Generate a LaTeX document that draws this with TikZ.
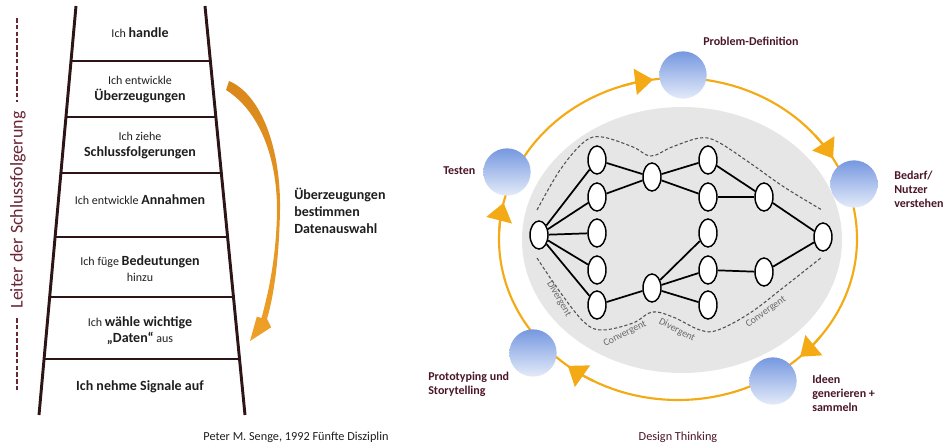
\documentclass[tikz,border=0pt]{standalone}
\usepackage{fontspec}
\setmainfont{Carlito}
\usetikzlibrary{calc,arrows.meta,shapes.geometric}

\definecolor{railc}{RGB}{45,20,22}
\definecolor{ink}{RGB}{30,30,30}
\definecolor{maroon}{RGB}{75,22,38}
\definecolor{leiterc}{RGB}{105,38,52}
\definecolor{loopc}{RGB}{243,170,20}
\definecolor{ringtop}{RGB}{118,152,224}
\definecolor{ringbot}{RGB}{228,235,249}
\definecolor{cloud}{RGB}{230,230,230}
\definecolor{dashc}{RGB}{80,80,80}
\definecolor{tagc}{RGB}{105,105,105}
\definecolor{amberdark}{RGB}{218,136,28}
\definecolor{amberlight}{RGB}{252,230,196}
\definecolor{ambermid}{RGB}{238,160,40}

\newcommand\Kw[1]{{\fontsize{10.5}{12}\selectfont\bfseries #1}}

\begin{document}
\begin{tikzpicture}[x=0.75pt, y=-0.75pt,
  rail/.style={draw=railc, line width=2.2pt},
  rung/.style={draw=railc, line width=1.8pt},
  ladtxt/.style={font=\fontsize{9}{12}\selectfont, text=ink, align=center, inner sep=0pt},
  dtlabel/.style={font=\fontsize{9}{10.5}\selectfont\bfseries, text=maroon, align=left, inner sep=0pt},
  ring/.style={circle, minimum size=35.5pt, inner sep=0pt, top color=ringtop, bottom color=ringbot, draw=none},
  loopline/.style={draw=loopc, line width=1.6pt},
  looptip/.style={loopline, -{Triangle[length=13.5pt, width=19.5pt]}},
  dnode/.style={ellipse, draw=black, line width=1.1pt, fill=white, minimum width=13.5pt, minimum height=21pt, inner sep=0pt},
  link/.style={draw=black, line width=1.3pt},
  phase/.style={draw=dashc, line width=0.8pt, dash pattern=on 2.4pt off 1.6pt},
  phasetag/.style={font=\fontsize{7.5}{9}\selectfont, text=tagc, inner sep=0pt},
  leader/.style={draw=leiterc, line width=1pt, dash pattern=on 3.4pt off 1.7pt}
]
\useasboundingbox (0,0) rectangle (945,446);

% ---------------- ladder of inference ----------------
\coordinate (lt) at (76,6);
\coordinate (lb) at (39,415);
\coordinate (rt) at (205,6);
\coordinate (rb) at (245,415);
\draw[rail] (lt) -- (lb);
\draw[rail] (rt) -- (rb);
\foreach \yy in {61,117,173,237,297,359}
  \draw[rung] ($(lt)!{(\yy-6)/409}!(lb)$) -- ($(rt)!{(\yy-6)/409}!(rb)$);

\node[ladtxt] (s7) at (140,33) {Ich \Kw{handle}};
\node[ladtxt] (s6) at (140,90) {Ich entwickle\\\Kw{Überzeugungen}};
\node[ladtxt] (s5) at (140,146) {Ich ziehe\\\Kw{Schlussfolgerungen}};
\node[ladtxt] (s4) at (140,200) {Ich entwickle \Kw{Annahmen}};
\node[ladtxt] (s3) at (140,269) {Ich füge \Kw{Bedeutungen}\\hinzu};
\node[ladtxt] (s2) at (140,331) {Ich \Kw{wähle wichtige}\\\Kw{„Daten“} aus};
\node[ladtxt] (s1) at (140,387) {\Kw{Ich nehme Signale auf}};

% side label with dashed leaders
\node[rotate=90, text=leiterc, font=\fontsize{13.5}{16}\selectfont, inner sep=0pt] (leiter) at (18,210) {Leiter der Schlussfolgerung};
\draw[leader] (17,18) -- (17,102);
\draw[leader] (17,318) -- (17,390);

% tapered feedback arrow
\path[top color=amberdark, middle color=amberlight, bottom color=ambermid]
  (229,81) .. controls (262,95) and (281,150) .. (280,210)
  .. controls (279,260) and (274,295) .. (267,319)
  -- (271.2,327.3) -- (250,341) -- (256.8,316.7) -- (261.5,318)
  .. controls (268,294) and (276.5,258) .. (277,210)
  .. controls (277,155) and (258,110) .. (226,90) -- cycle;

\node[anchor=west, align=left, font=\fontsize{10.5}{13}\selectfont\bfseries, text=ink, inner sep=0pt] (sel) at (294,211)
  {Überzeugungen\\bestimmen\\Datenauswahl};

\node[font=\fontsize{9.2}{11}\selectfont, text=ink] (cap1) at (296,437) {Peter M. Senge, 1992 Fünfte Disziplin};

% ---------------- design thinking ----------------
\fill[cloud] (682,240) ellipse [x radius=160, y radius=133];

\draw[loopline] (678,239) ellipse [x radius=179, y radius=161];
\foreach \a in {252,320,37,118,183}
  \draw[looptip] (678,239) ++(\a:179 and 161) arc[start angle=\a, end angle=\a+10, x radius=179, y radius=161];

\node[ring] (pd) at (683,75) {};
\node[ring] (bn) at (854,184) {};
\node[ring] (ig) at (773,381) {};
\node[ring] (ps) at (533,353) {};
\node[ring] (te) at (507,172) {};

\node[dtlabel, anchor=west] (lpd) at (703,41) {Problem-Definition};
\node[dtlabel, anchor=west] (lbn) at (894,189) {Bedarf/\\Nutzer\\verstehen};
\node[dtlabel, anchor=west] (lig) at (812,393) {Ideen\\generieren +\\sammeln};
\node[dtlabel, anchor=west] (lps) at (428,384) {Prototyping und\\Storytelling};
\node[dtlabel, anchor=west] (lte) at (443,171) {Testen};

\node[font=\fontsize{9.2}{11}\selectfont, text=maroon] (cap2) at (678,437) {Design Thinking};

% phase boundaries
\draw[phase] plot[smooth, tension=0.6] coordinates {(537,210) (560,170) (584,142) (602,137) (633,147) (651,156) (672,147) (700,138) (718,142) (750,163) (784,187) (822,210)};
\draw[phase] plot[smooth, tension=0.6] coordinates {(537,258) (560,292) (584,322) (602,330) (633,323) (652,312) (673,317) (700,330) (718,330) (750,313) (784,287) (822,257)};

\node[phasetag, rotate=-60] (t1) at (559,299) {Divergent};
\node[phasetag, rotate=27] (t2) at (625,334) {Convergent};
\node[phasetag, rotate=-28] (t3) at (677,330) {Divergent};
\node[phasetag, rotate=35] (t4) at (766,312) {Convergent};

% idea network
\node[dnode] (a) at (539,235) {};
\node[dnode] (c1) at (597,160) {};
\node[dnode] (c2) at (597,197) {};
\node[dnode] (c3) at (597,233) {};
\node[dnode] (c4) at (597,270) {};
\node[dnode] (c5) at (597,305) {};
\node[dnode] (b1) at (652,177) {};
\node[dnode] (b2) at (652,288) {};
\node[dnode] (e1) at (708,160) {};
\node[dnode] (e2) at (708,197) {};
\node[dnode] (e3) at (708,233) {};
\node[dnode] (e4) at (708,270) {};
\node[dnode] (e5) at (708,305) {};
\node[dnode] (d1) at (764,197) {};
\node[dnode] (d2) at (764,272) {};
\node[dnode] (r) at (823,237) {};

\foreach \n in {c1,c2,c3,c4,c5} \draw[link] (a) -- (\n);
\draw[link] (c1) -- (b1);
\draw[link] (c2) -- (b1);
\draw[link] (b1) -- (e1);
\draw[link] (b1) -- (e2);
\draw[link] (c5) -- (b2);
\draw[link] (b2) -- (e3);
\draw[link] (b2) -- (e4);
\draw[link] (b2) -- (e5);
\draw[link] (e1) -- (d1);
\draw[link] (e2) -- (d1);
\draw[link] (e4) -- (d2);
\draw[link] (d1) -- (r);
\draw[link] (d2) -- (r);
\end{tikzpicture}
\end{document}
